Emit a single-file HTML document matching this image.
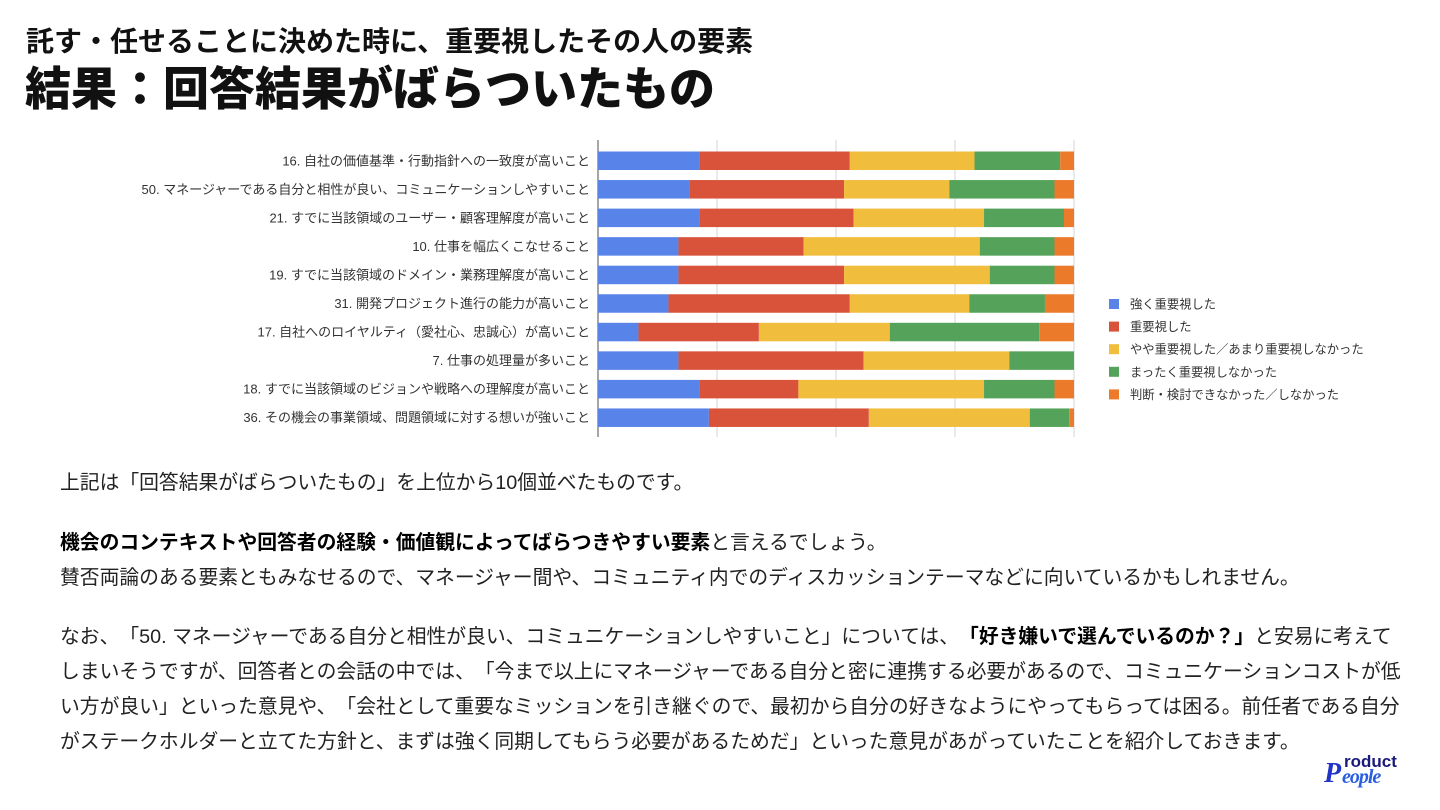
<!DOCTYPE html>
<html lang="ja">
<head>
<meta charset="utf-8">
<style>
  html,body{margin:0;padding:0;background:#fff;}
  body{width:1440px;height:810px;position:relative;overflow:hidden;
    font-family:"Liberation Sans","Noto Sans CJK JP",sans-serif;color:#111;text-spacing-trim:space-all;}
  .t1{position:absolute;left:26px;top:24px;font-size:28px;font-weight:700;line-height:36px;white-space:nowrap;}
  .t2{position:absolute;left:25px;top:61px;font-size:46px;font-weight:900;line-height:56px;white-space:nowrap;}
  .body{position:absolute;left:60px;font-size:19.8px;line-height:35px;white-space:nowrap;color:#222;}
  b{font-weight:700;color:#000;}
  svg text{font-family:"Liberation Sans","Noto Sans CJK JP",sans-serif;}
</style>
</head>
<body>
<div class="t1">託す・任せることに決めた時に、重要視したその人の要素</div>
<div class="t2">結果：回答結果がばらついたもの</div>

<svg id="chart" width="1440" height="450" style="position:absolute;left:0;top:0"></svg>

<div class="body" style="top:466px">上記は「回答結果がばらついたもの」を上位から10個並べたものです。</div>
<div class="body" style="top:526px"><b>機会のコンテキストや回答者の経験・価値観によってばらつきやすい要素</b>と言えるでしょう。<br>賛否両論のある要素ともみなせるので、マネージャー間や、コミュニティ内でのディスカッションテーマなどに向いているかもしれません。</div>
<div class="body" style="top:620px">なお、「50. マネージャーである自分と相性が良い、コミュニケーションしやすいこと」については、<b>「好き嫌いで選んでいるのか？」</b>と安易に考えて<br>しまいそうですが、回答者との会話の中では、「今まで以上にマネージャーである自分と密に連携する必要があるので、コミュニケーションコストが低<br>い方が良い」といった意見や、「会社として重要なミッションを引き継ぐので、最初から自分の好きなようにやってもらっては困る。前任者である自分<br>がステークホルダーと立てた方針と、まずは強く同期してもらう必要があるためだ」といった意見があがっていたことを紹介しておきます。</div>

<div style="position:absolute;left:1322px;top:752px;width:100px;height:40px;">
  <span style="position:absolute;left:22px;top:0;font:700 17px 'Liberation Sans',sans-serif;color:#1a1a7a;">roduct</span>
  <span style="position:absolute;left:2px;top:6px;font:italic 700 28px 'Liberation Serif',serif;color:#2233c8;">P</span>
  <span style="position:absolute;left:20px;top:14px;font:italic 700 20px 'Liberation Serif',serif;color:#2a5ee0;letter-spacing:-1px;">eople</span>
</div>

<script>
const categories = [
  "16. 自社の価値基準・行動指針への一致度が高いこと",
  "50. マネージャーである自分と相性が良い、コミュニケーションしやすいこと",
  "21. すでに当該領域のユーザー・顧客理解度が高いこと",
  "10. 仕事を幅広くこなせること",
  "19. すでに当該領域のドメイン・業務理解度が高いこと",
  "31. 開発プロジェクト進行の能力が高いこと",
  "17. 自社へのロイヤルティ（愛社心、忠誠心）が高いこと",
  "7. 仕事の処理量が多いこと",
  "18. すでに当該領域のビジョンや戦略への理解度が高いこと",
  "36. その機会の事業領域、問題領域に対する想いが強いこと"
];
const seriesNames = ["強く重要視した","重要視した","やや重要視した／あまり重要視しなかった","まったく重要視しなかった","判断・検討できなかった／しなかった"];
const seriesColors = ["#5884ea","#d9533b","#f0bd3c","#55a35a","#ec7a2b"];
const strong   = [21.3,19.2,21.3,16.9,16.9,14.8, 8.5,16.9,21.3,23.3];
const important= [31.6,32.5,32.4,26.3,34.8,38.1,25.3,38.9,20.8,33.6];
const somewhat = [26.2,22.1,27.4,37.0,30.6,25.1,27.5,30.6,39.0,33.8];
const notAtAll = [18.0,22.1,16.8,15.7,13.6,15.9,31.4,13.6,14.8, 8.3];
const undecided= [ 2.9, 4.1, 2.1, 4.1, 4.1, 6.1, 7.3, 0.0, 4.1, 1.0];
const xTicks = [0,25,50,75,100];

const svg = document.getElementById('chart');
const NS = 'http://www.w3.org/2000/svg';
const X0 = 598, X1 = 1074, Y0 = 151.5, STEP = 28.55, BH = 18.5;
const xs = v => X0 + (X1 - X0) * v / 100;
const ys = i => Y0 + i * STEP;
function mk(tag, attrs){ const e=document.createElementNS(NS,tag); for(const k in attrs) e.setAttribute(k,attrs[k]); svg.appendChild(e); return e; }

xTicks.forEach(t=>{
  const g = mk('line',{x1:xs(t),x2:xs(t),y1:140,y2:437,stroke: t===0?'#888':'#d6d6d6','stroke-width': t===0?1.5:1});
  
  
});

const series = [strong, important, somewhat, notAtAll, undecided];
categories.forEach((c,i)=>{
  let acc = 0;
  series.forEach((s,k)=>{
    const v = s[i];
    if(v>0){
      const r = mk('rect',{x:xs(acc),y:ys(i),width:xs(acc+v)-xs(acc),height:BH,fill:seriesColors[k]});
      
      
    }
    acc += v;
  });
  const t = mk('text',{x:590,y:ys(i)+BH/2+4.5,'text-anchor':'end','font-size':'13',fill:'#333'});
  t.textContent = c;
  
  
});

seriesNames.forEach((n,k)=>{
  const y = 299 + k*22.6;
  const sq = mk('rect',{x:1109,y:y,width:10,height:10,fill:seriesColors[k]});
  
  
  const t = mk('text',{x:1130,y:y+9.5,'font-size':'12.3',fill:'#333'});
  t.textContent = n;
  
  
});
</script>
</body>
</html>
